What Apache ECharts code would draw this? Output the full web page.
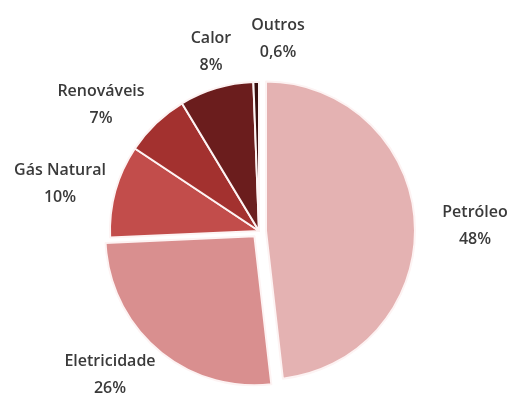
<!DOCTYPE html>
<html>
<head>
<meta charset="utf-8">
<script src="https://cdn.jsdelivr.net/npm/echarts@6/dist/echarts.min.js"></script>
<style>
  html, body { margin: 0; padding: 0; background: #ffffff; }
  #chart { width: 513px; height: 394px; }
</style>
</head>
<body>
<div id="chart"></div>
<script>
// Energy consumption shares by source (percent)
const categories = ['Petróleo', 'Eletricidade', 'Gás Natural', 'Renováveis', 'Calor', 'Outros'];
const shares = [48, 26, 10, 7, 8, 0.6];
const shareLabels = ['48%', '26%', '10%', '7%', '8%', '0,6%'];
const sliceColors = ['#e4b2b2', '#d98f8f', '#c24d4b', '#a3312f', '#6b1d1d', '#3a0e0e'];
const pulledOut = ['Petróleo', 'Eletricidade'];

// Where each label block is placed (px)
const labelAnchors = [[475, 226], [110, 375], [60, 184], [101, 105], [211, 52], [278, 39]];

const CENTER = [259, 231];
const RADIUS = 149;
const EXPLODE = 7;

// Direction of a slice's bisector (clockwise from 12 o'clock)
const total = shares.reduce((a, b) => a + b, 0);
function sliceShift(idx) {
  let before = 0;
  for (let i = 0; i < idx; i++) before += shares[i];
  const mid = (before + shares[idx] / 2) / total * 2 * Math.PI;
  return [Math.sin(mid) * EXPLODE, -Math.cos(mid) * EXPLODE];
}

function buildData(visible) {
  return categories.map((name, i) => {
    const on = visible(name);
    return {
      name: name,
      value: shares[i],
      itemStyle: on
        ? { color: sliceColors[i], borderColor: '#fdf3f3', borderWidth: 2 }
        : { color: 'rgba(0,0,0,0)', borderWidth: 0 },
      label: { show: on }
    };
  });
}

const labelStyle = {
  show: true,
  position: 'outside',
  overflow: 'none',
  color: '#3a3a3a',
  fontFamily: 'Open Sans',
  fontWeight: 600,
  fontSize: 16,
  lineHeight: 27,
  align: 'center',
  formatter: p => p.name + '\n' + shareLabels[p.dataIndex]
};

function pieSeries(center, visible) {
  return {
    type: 'pie',
    center: center,
    radius: RADIUS,
    startAngle: 90,
    clockwise: true,
    avoidLabelOverlap: false,
    silent: true,
    emphasis: { disabled: true },
    label: labelStyle,
    labelLine: { show: false },
    labelLayout: p => ({
      x: labelAnchors[p.dataIndex][0],
      y: labelAnchors[p.dataIndex][1],
      align: 'center',
      verticalAlign: 'middle'
    }),
    data: buildData(visible)
  };
}

const series = [pieSeries(CENTER, name => !pulledOut.includes(name))];
pulledOut.forEach(slice => {
  const s = sliceShift(categories.indexOf(slice));
  series.push(pieSeries([CENTER[0] + s[0], CENTER[1] + s[1]], name => name === slice));
});

const chart = echarts.init(document.getElementById('chart'));
chart.setOption({ animation: false, series: series });
</script>
</body>
</html>
